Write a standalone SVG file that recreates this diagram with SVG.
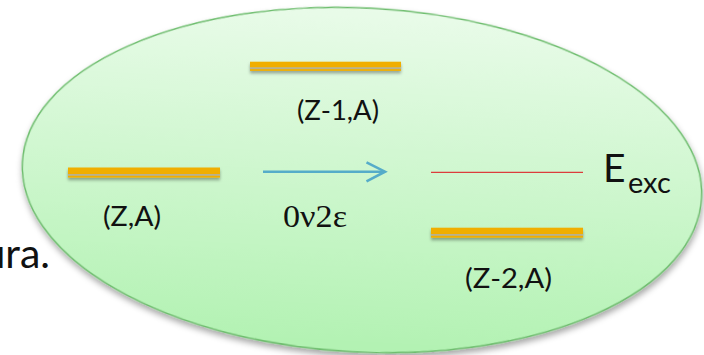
<svg xmlns="http://www.w3.org/2000/svg" width="704" height="355" viewBox="0 0 704 355">
<defs>
<linearGradient id="g" x1="0" y1="0" x2="0" y2="1">
<stop offset="0" stop-color="#e9fbe9"/>
<stop offset="1" stop-color="#b2f2b2"/>
</linearGradient>
<filter id="es" x="-10%" y="-10%" width="120%" height="125%">
<feDropShadow dx="1" dy="4" stdDeviation="3" flood-color="#000" flood-opacity="0.35"/>
</filter>
<filter id="bs" x="-5%" y="-100%" width="110%" height="400%">
<feDropShadow dx="0" dy="2.5" stdDeviation="1.6" flood-color="#000" flood-opacity="0.35"/>
</filter>
</defs>
<style>
.lbl{font-family:Lato,"Open Sans",sans-serif;font-size:26px;fill:#111;text-anchor:middle}
.thick{fill:#f0ae00}
.thin{fill:#f0ae00}
.gap{fill:#b8b090}
</style>
<text x="50" y="268" style="font-family:Lato,'Open Sans',sans-serif;font-size:41px;fill:#111;text-anchor:end">ura.</text>
<g id="ellipse">
<ellipse cx="362" cy="180" rx="340" ry="172" transform="rotate(3 362 180)" fill="url(#g)" stroke="#6dbd6d" stroke-width="1.5" filter="url(#es)"/>
</g>
<g id="level-ZA">
<g filter="url(#bs)">
<rect x="68" y="167.5" width="152" height="6.5" class="thick"/>
<rect x="68" y="174" width="152" height="1.8" class="gap"/>
<rect x="68" y="175.8" width="152" height="1.8" class="thin"/>
</g>
<text x="132" y="226" class="lbl" textLength="58" lengthAdjust="spacingAndGlyphs">(Z,A)</text>
</g>
<g id="level-Z1A">
<g filter="url(#bs)">
<rect x="250" y="61.7" width="151" height="5.8" class="thick"/>
<rect x="250" y="67.5" width="151" height="1.6" class="gap"/>
<rect x="250" y="69.1" width="151" height="1.8" class="thin"/>
</g>
<text x="338" y="120" class="lbl" textLength="82" lengthAdjust="spacingAndGlyphs">(Z-1,A)</text>
</g>
<g id="level-Z2A">
<g filter="url(#bs)">
<rect x="431" y="227.7" width="152" height="6.3" class="thick"/>
<rect x="431" y="234" width="152" height="1.8" class="gap"/>
<rect x="431" y="235.8" width="152" height="1.9" class="thin"/>
</g>
<text x="508.5" y="288" class="lbl" textLength="87" lengthAdjust="spacingAndGlyphs">(Z-2,A)</text>
</g>
<g id="level-exc">
<line x1="431" y1="172.3" x2="583" y2="172.3" stroke="#dc3c3c" stroke-width="1.2"/>
<text x="603" y="182" style="font-family:Lato,'Open Sans',sans-serif;font-size:39px;fill:#111">E<tspan x="628" y="193" style="font-size:29px">exc</tspan></text>
</g>
<g id="connectors">
<line x1="263" y1="171.7" x2="384" y2="171.7" stroke="#55acc9" stroke-width="2.6"/>
<polyline points="366.5,162.3 385,171.7 366.5,181.3" fill="none" stroke="#55acc9" stroke-width="2.6"/>
<text x="315" y="227" style="font-family:'Liberation Serif',serif;font-size:31px;fill:#111;text-anchor:middle" textLength="64" lengthAdjust="spacingAndGlyphs">0ν2ε</text>
</g>
</svg>
